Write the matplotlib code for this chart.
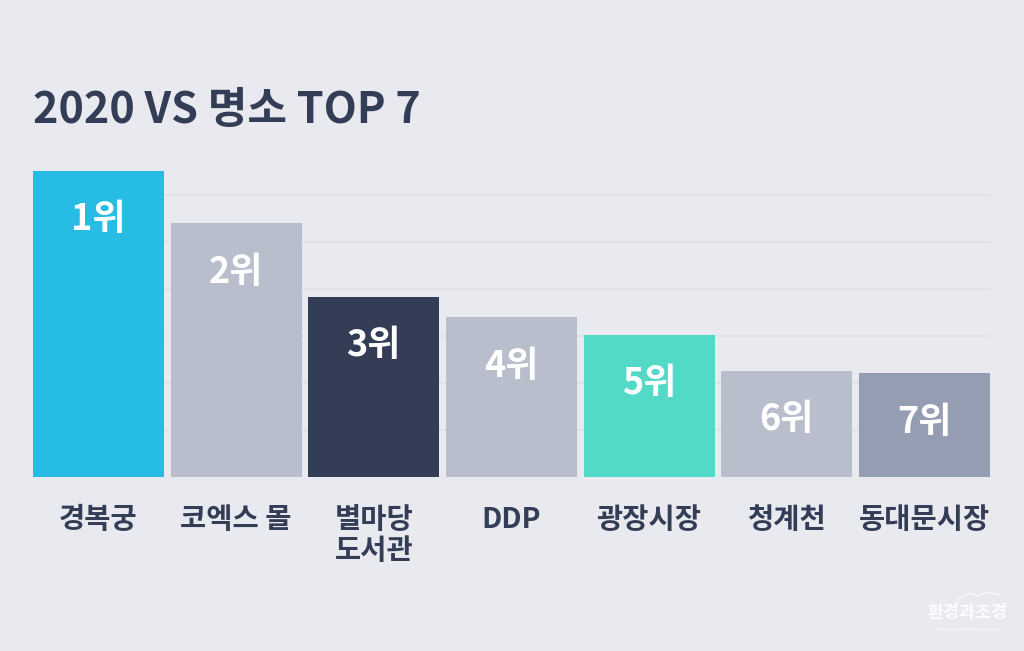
"""
2020 VS 명소 TOP 7 - 막대 차트 재현
"""

import matplotlib
matplotlib.use("Agg")
import matplotlib.pyplot as plt

plt.rcParams["font.family"] = ["Noto Sans CJK KR", "DejaVu Sans"]

# 데이터 (그림에서 읽은 상대 높이, 격자 한 칸 = 1)
places = ["경복궁", "코엑스 몰", "별마당\n도서관", "DDP", "광장시장", "청계천", "동대문시장"]
ranks = ["1위", "2위", "3위", "4위", "5위", "6위", "7위"]
scores = [6.51, 5.40, 3.83, 3.40, 3.02, 2.26, 2.21]
bar_colors = ["#27BCE4", "#B8BECC", "#343D56", "#B8BECC", "#52DAC6", "#B8BECC", "#959DB2"]

BG = "#E9EAEF"
DARK = "#343D56"

fig = plt.figure(figsize=(10.24, 6.51), dpi=100, facecolor=BG)
ax = fig.add_axes([33 / 1024, 174 / 651, 957 / 1024, 329 / 651])
ax.set_facecolor(BG)

x = list(range(len(places)))
ax.bar(x, scores, width=0.95, color=bar_colors, zorder=2)

# 가로 격자선
for g in range(1, 7):
    ax.axhline(g, color="#DFE0E6", linewidth=1.2, zorder=1)

# 막대 안 순위 라벨
for xi, s, r in zip(x, scores, ranks):
    ax.text(xi, s - 1.04, r, ha="center", va="center", color="white",
            fontsize=26, fontweight="black", zorder=3)

ax.set_xlim(-0.475, len(places) - 0.525)
ax.set_ylim(0, 7)
ax.set_xticks([])
ax.set_yticks([])
for sp in ax.spines.values():
    sp.set_visible(False)

# 카테고리 라벨
for xi, name in zip(x, places):
    ax.annotate(name, xy=(xi, 0), xytext=(0, -21), textcoords="offset points",
                ha="center", va="top", color=DARK, fontsize=20.5,
                fontweight="bold", linespacing=1.15)

# 제목
fig.text(33 / 1024, 1 - 110 / 651, "2020 VS 명소 TOP 7", ha="left", va="center",
         color=DARK, fontsize=31, fontweight="black")

# 워터마크
fig.text(968 / 1024, 1 - 613 / 651, "환경과조경", ha="center", va="center",
         color="white", fontsize=12.5, fontweight="bold", alpha=0.9)
fig.text(968 / 1024, 1 - 630 / 651, "landscape architecture korea", ha="center",
         va="center", color="white", fontsize=3.5, alpha=0.9)
fig.lines.append(plt.Line2D([957 / 1024, 970 / 1024, 978 / 1024, 986 / 1024, 1000 / 1024],
                            [1 - 600 / 651, 1 - 593 / 651, 1 - 596 / 651, 1 - 592 / 651, 1 - 595 / 651],
                            transform=fig.transFigure, color="white", linewidth=0.8, alpha=0.9))

plt.savefig("out.png", dpi=100, facecolor=BG)
plt.close()
